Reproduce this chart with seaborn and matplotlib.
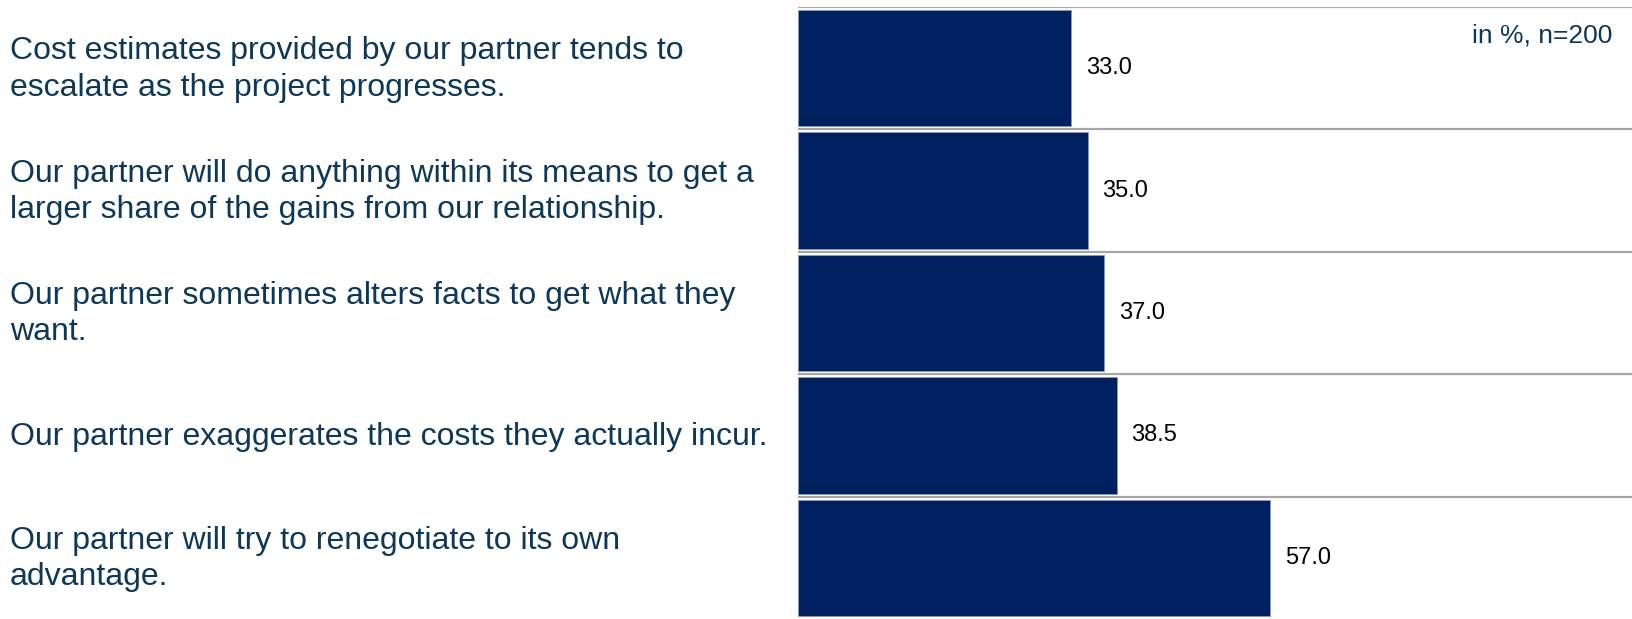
import matplotlib
matplotlib.use("Agg")
import matplotlib.pyplot as plt
import matplotlib.transforms as mtransforms
import pandas as pd
import seaborn as sns

statements = [
    "Cost estimates provided by our partner tends to\nescalate as the project progresses.",
    "Our partner will do anything within its means to get a\nlarger share of the gains from our relationship.",
    "Our partner sometimes alters facts to get what they\nwant.",
    "Our partner exaggerates the costs they actually incur.",
    "Our partner will try to renegotiate to its own\nadvantage.",
]
agree_pct = [33.0, 35.0, 37.0, 38.5, 57.0]
note_text = "in %, n=200"

BAR_COLOR = "#002060"
TEXT_COLOR = "#0D3858"
GRID_COLOR = "#A6A6A6"

sns.set_theme(style="white")
plt.rcParams["font.family"] = ["Liberation Sans", "DejaVu Sans"]

df = pd.DataFrame({"statement": statements, "pct": agree_pct})

W, H = 1633, 619
fig = plt.figure(figsize=(W / 100, H / 100), dpi=100)
ax = fig.add_axes([798 / W, 0.0, (W - 798) / W, (H - 7) / H])

sns.barplot(data=df, x="pct", y="statement", orient="h", color=BAR_COLOR,
            saturation=1, width=0.95, edgecolor="#8A9BB5", linewidth=0.6, ax=ax)

ax.set_xlim(0, 100.8)
ax.set_ylim(len(statements) - 0.5, -0.5)

# separators between statements
for k in range(len(statements)):
    ax.axhline(k - 0.5, color=GRID_COLOR, lw=1.6, zorder=0.5)

ax.bar_label(ax.containers[0], fmt="%.1f", padding=10.5, fontsize=17, color="black")

ax.set_xticks([])
ax.set_yticks([])
ax.set_xlabel("")
ax.set_ylabel("")
for s in ax.spines.values():
    s.set_visible(False)

# statement labels on the left side of the figure
trans = mtransforms.blended_transform_factory(fig.transFigure, ax.transData)
for i, txt in enumerate(statements):
    ax.text(10 / W, i + 0.01, txt, transform=trans, ha="left", va="center",
            fontsize=23, color=TEXT_COLOR, linespacing=1.28, clip_on=False)

fig.text(1612 / W, 1 - 24 / H, note_text, ha="right", va="top",
         fontsize=19, color=TEXT_COLOR)

fig.savefig("out.png", dpi=100, facecolor="white")
